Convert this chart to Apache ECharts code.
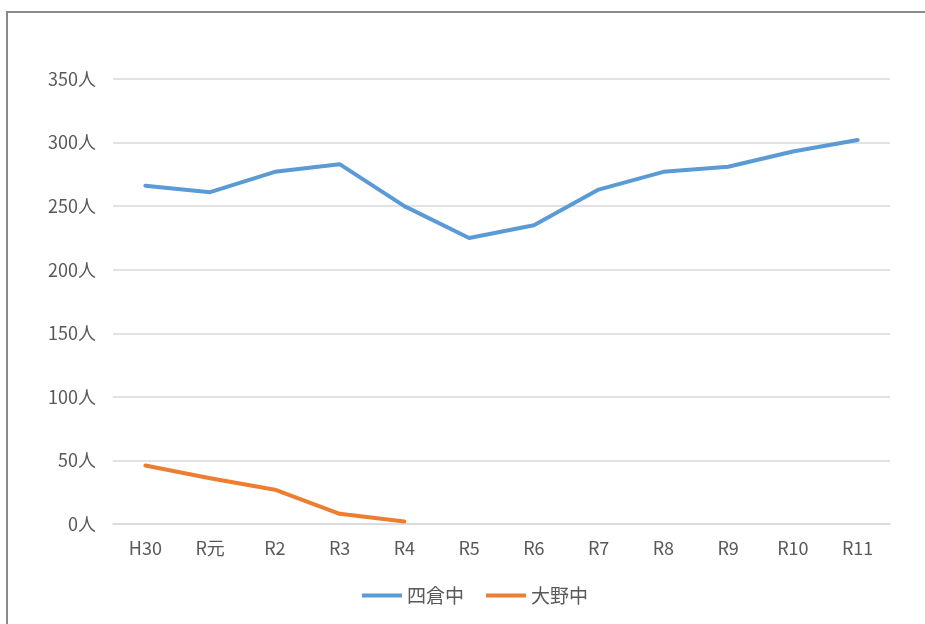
<!DOCTYPE html>
<html><head><meta charset="utf-8">
<script src="https://cdn.jsdelivr.net/npm/echarts@6/dist/echarts.min.js"></script>
<style>
html,body{margin:0;padding:0;background:#fff;}
#frame{position:absolute;left:6px;top:11px;width:940px;height:640px;border-left:2px solid #8a8a8a;border-top:2px solid #8a8a8a;}
#c{position:absolute;left:0;top:0;width:925px;height:624px;}
</style></head>
<body>
<div id="frame"></div>
<div id="c"></div>
<script>
const categories = ['H30','R元','R2','R3','R4','R5','R6','R7','R8','R9','R10','R11'];
const yotsukura = [266, 261, 277, 283, 250, 225, 235, 263, 277, 281, 293, 302];
const ono = [46, 36, 27, 8, 2];
const seriesNames = ['四倉中','大野中'];
const FONT = '"Noto Sans CJK JP", "Noto Sans", sans-serif';
const chart = echarts.init(document.getElementById('c'), null, {renderer:'canvas'});
chart.setOption({
  animation:false,
  backgroundColor:'transparent',
  grid:{left:113,right:35,top:79,bottom:100,containLabel:false},
  legend:{
    data:seriesNames, bottom:14, left:357,
    itemWidth:40, itemHeight:4, itemGap:22,
    icon:'rect',
    textStyle:{fontFamily:FONT,fontSize:19,color:'#595959'}
  },
  xAxis:{
    type:'category', data:categories, boundaryGap:true,
    axisLine:{show:true,lineStyle:{color:'#d9d9d9',width:1.5}},
    axisTick:{show:false},
    axisLabel:{fontFamily:FONT,fontSize:18,color:'#595959',margin:15}
  },
  yAxis:{
    type:'value', min:0, max:350, interval:50,
    axisLine:{show:false}, axisTick:{show:false},
    splitLine:{lineStyle:{color:'#d9d9d9',width:1.5}},
    axisLabel:{formatter:'{value}人',fontFamily:FONT,fontSize:18,color:'#595959',margin:17}
  },
  series:[
    {name:seriesNames[0],type:'line',data:yotsukura,symbol:'none',lineStyle:{width:4,color:'#5b9bd5',cap:'round',join:'round'},itemStyle:{color:'#5b9bd5'}},
    {name:seriesNames[1],type:'line',data:ono,symbol:'none',lineStyle:{width:4,color:'#ed7d31',cap:'round',join:'round'},itemStyle:{color:'#ed7d31'}}
  ]
});
</script>
</body></html>
